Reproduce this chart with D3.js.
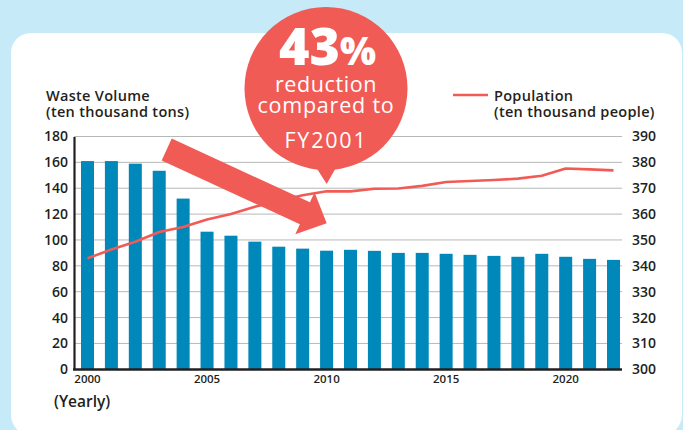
<!DOCTYPE html>
<html>
<head>
<meta charset="utf-8">
<script src="https://cdn.jsdelivr.net/npm/d3@7"></script>
<style>
  html, body { margin: 0; padding: 0; background: #c6eaf8; }
  svg { display: block; }
  text { font-family: "Open Sans", "Noto Sans", sans-serif; fill: #231f20; }
</style>
</head>
<body>
<svg id="chart" width="683" height="430"></svg>
<script>
const years = d3.range(2000, 2023);
const waste = [161, 161, 159, 153.5, 132, 106.4, 103.3, 98.7, 94.8, 93.3, 91.7, 92.4, 91.6, 90.0, 90.0, 89.3, 88.5, 87.7, 87.0, 89.3, 87.0, 85.4, 84.6];
const population = [342.9, 346.3, 349.3, 353.1, 355.0, 357.9, 360.0, 362.8, 365.2, 367.3, 368.8, 368.8, 369.8, 369.9, 370.9, 372.4, 372.8, 373.2, 373.7, 374.8, 377.6, 377.3, 376.9];
const leftTicks = [0, 20, 40, 60, 80, 100, 120, 140, 160, 180];
const rightTicks = [300, 310, 320, 330, 340, 350, 360, 370, 380, 390];
const xTickLabels = [2000, 2005, 2010, 2015, 2020];

const RED = "#f15b56", BLUE = "#0088bb";
const svg = d3.select("#chart");

// card
svg.append("rect").attr("x", 0).attr("y", 0).attr("width", 683).attr("height", 430).attr("fill", "#c6eaf8");
svg.append("rect").attr("x", 11).attr("y", 33).attr("width", 671).attr("height", 402).attr("rx", 20).attr("fill", "#fff");

const x0 = 74, x1 = 622, yTop = 136.5, yBot = 369.3;
const x = d3.scaleBand().domain(years).range([78.6, 622.4]).paddingInner(0.456).paddingOuter(0.1);
const yL = d3.scaleLinear().domain([0, 180]).range([yBot, yTop]);
const yR = d3.scaleLinear().domain([300, 390]).range([yBot, yTop]);

// grid
svg.append("g").selectAll("line").data(leftTicks.slice(1)).join("line")
  .attr("x1", x0).attr("x2", x1).attr("y1", d => yL(d)).attr("y2", d => yL(d))
  .attr("stroke", "#b8b8b8").attr("stroke-width", 1);

// bars
svg.append("g").selectAll("rect").data(waste).join("rect")
  .attr("x", (d, i) => x(years[i])).attr("width", x.bandwidth())
  .attr("y", d => yL(d)).attr("height", d => yBot - yL(d))
  .attr("fill", BLUE);

// axes
const leftAxis = d3.axisLeft(yL).tickValues(leftTicks).tickSize(0).tickPadding(6);
const gL = svg.append("g").attr("transform", `translate(${x0},0)`).call(leftAxis);
gL.select(".domain").attr("stroke", "#231f20").attr("stroke-width", 2.2);
gL.selectAll("text").style("font-size", "14px").style("font-weight", 600).attr("fill", "#231f20");

const rightAxis = d3.axisRight(yR).tickValues(rightTicks).tickSize(0).tickPadding(10);
const gR = svg.append("g").attr("transform", `translate(${x1},0)`).call(rightAxis);
gR.select(".domain").remove();
gR.selectAll("text").style("font-size", "14px").style("font-weight", 600).attr("fill", "#231f20");

svg.append("line").attr("x1", x0 - 1).attr("x2", x1).attr("y1", yBot + 0.2).attr("y2", yBot + 0.2)
  .attr("stroke", "#231f20").attr("stroke-width", 2.6);

const xAxis = d3.axisBottom(x).tickValues(xTickLabels).tickSize(0).tickPadding(6);
const gX = svg.append("g").attr("transform", `translate(0,${yBot})`).call(xAxis);
gX.select(".domain").remove();
gX.selectAll("text").style("font-size", "11.5px").style("font-weight", 600).attr("fill", "#231f20");

// population line
const line = d3.line().x((d, i) => x(years[i]) + x.bandwidth() / 2).y(d => yR(d));
svg.append("path").datum(population).attr("d", line)
  .attr("fill", "none").attr("stroke", RED).attr("stroke-width", 2.6).attr("stroke-linejoin", "round");

// titles
const tStyle = sel => sel.style("font-size", "14.5px").style("font-weight", 600).style("letter-spacing", "0.3px");
const t1 = svg.append("text").attr("x", 46).attr("y", 101).call(tStyle);
t1.append("tspan").attr("x", 46).text("Waste Volume");
t1.append("tspan").attr("x", 46).attr("dy", 16).text("(ten thousand tons)");

svg.append("line").attr("x1", 453).attr("x2", 488).attr("y1", 95).attr("y2", 95).attr("stroke", RED).attr("stroke-width", 2.6);
const t2 = svg.append("text").attr("x", 494).attr("y", 101).call(tStyle);
t2.append("tspan").attr("x", 494).text("Population");
t2.append("tspan").attr("x", 494).attr("dy", 16).text("(ten thousand people)");

svg.append("text").attr("x", 54).attr("y", 407).style("font-size", "15.5px").style("font-weight", 600).text("(Yearly)");

// arrow
const ax0 = 166.7, ay0 = 149.5, ax1 = 326.7, ay1 = 223.3;
const ang = Math.atan2(ay1 - ay0, ax1 - ax0) * 180 / Math.PI;
const L = Math.hypot(ax1 - ax0, ay1 - ay0);
const hl = 24, sw = 12, hw = 23;
svg.append("path")
  .attr("transform", `translate(${ax0},${ay0}) rotate(${ang})`)
  .attr("d", `M0,${-sw} L${L - hl},${-sw} L${L - hl},${-hw} L${L},0 L${L - hl},${hw} L${L - hl},${sw} L0,${sw} Z`)
  .attr("fill", RED);

// callout bubble
const cx = 326, cy = 88.5, r = 81.5;
svg.append("circle").attr("cx", cx).attr("cy", cy).attr("r", r).attr("fill", RED);
svg.append("path").attr("d", `M${cx - 12},${cy + r - 6} L${cx + 12},${cy + r - 6} L${cx + 0.7},${cy + r + 14} Z`).attr("fill", RED);

const big = svg.append("text").attr("x", 327.5).attr("y", 65).attr("text-anchor", "middle").style("fill", "#fff").style("font-weight", 800);
big.append("tspan").style("font-size", "52px").style("fill", "#fff").text("43");
big.append("tspan").style("font-size", "38px").style("fill", "#fff").text("%");
[["reduction", 92, 0.6], ["compared to", 113, 0.8], ["FY2001", 148, 1.8]].forEach(([t, yy, ls]) => {
  svg.append("text").attr("x", 326).attr("y", yy).attr("text-anchor", "middle")
    .style("font-size", "21.5px").style("font-weight", 500)
    .style("letter-spacing", ls + "px")
    .style("fill", "#fff").text(t);
});
</script>
</body>
</html>
